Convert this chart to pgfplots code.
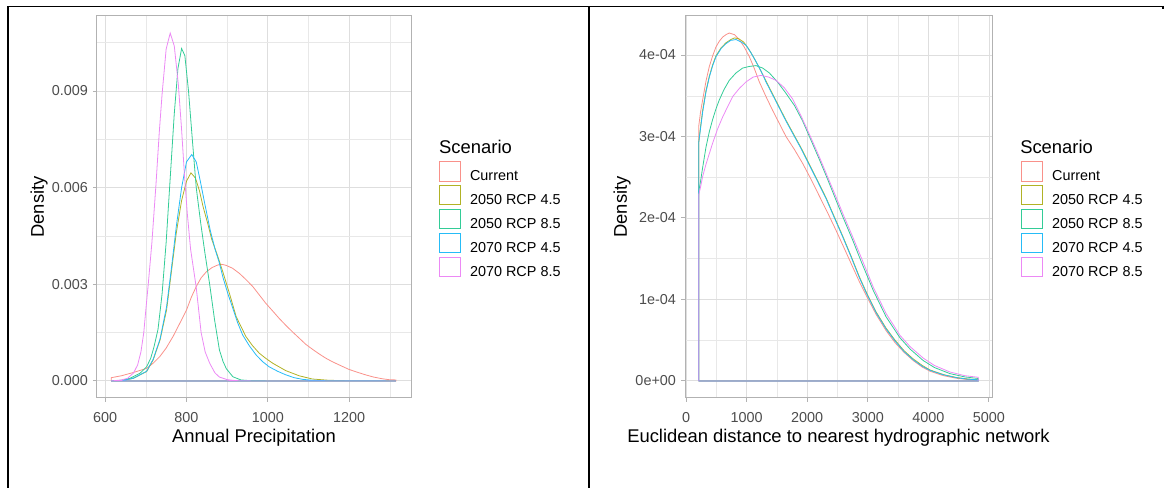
\documentclass[border=0pt]{standalone}
\usepackage{fontspec}
\setmainfont{Liberation Sans}
\usepackage{pgfplots}
\pgfplotsset{compat=1.18}
\definecolor{cA}{HTML}{F8766D}
\definecolor{cB}{HTML}{A3A500}
\definecolor{cC}{HTML}{00BF7D}
\definecolor{cD}{HTML}{00B0F6}
\definecolor{cE}{HTML}{E76BF3}
\pgfplotsset{
  ggstyle/.style={
    scale only axis,
    clip mode=individual,
    height=286.5pt,
    axis line style={black!30, line width=0.75pt},
    tick align=outside,
    tick pos=left,
    major tick length=3pt,
    minor tick length=0pt,
    tick style={black!30, line width=0.75pt},
    grid=both,
    major grid style={black!13, line width=0.7pt},
    minor grid style={black!9, line width=0.4pt},
    scaled x ticks=false, scaled y ticks=false,
    tick label style={font=\fontsize{10.8}{12}\selectfont, text=black!70},
    xticklabel style={anchor=north, inner sep=0pt, yshift=-8pt},
    yticklabel style={anchor=east, inner sep=0pt, xshift=-3.6pt},
    label style={font=\fontsize{13.8}{16}\selectfont, text=black},
    legend cell align=left,
    legend image code/.code={\fill[white] (0pt,-3.8pt) rectangle (16pt,11.3pt);
                             \draw[#1, fill=none, line width=0.7pt] (0.35pt,-3.45pt) rectangle (15.65pt,10.95pt);},
    legend style={draw=none, fill=none, inner sep=0pt, outer sep=0pt, anchor=north west,
      font=\fontsize{10.8}{13}\selectfont, row sep=1.8pt,
      nodes={inner xsep=6.75pt, inner ysep=0pt, text=black}},
    every axis plot/.append style={line width=0.6pt, no markers},
  }
}
\colorlet{kA}{cA!80!white}
\colorlet{kB}{cB!85!white}
\colorlet{kC}{cC!80!white}
\colorlet{kD}{cD!85!white}
\colorlet{kE}{cE!80!white}
\begin{document}
\begin{tikzpicture}
\begin{axis}[ggstyle,
  at={(72.75pt,67.5pt)}, anchor=south west, width=235.5pt,
  xmin=580, xmax=1352, ymin=-0.00053, ymax=0.01133,
  xtick={600,800,1000,1200}, xticklabels={600,800,1000,1200},
  minor xtick={700,900,1100,1300},
  ytick={0,0.003,0.006,0.009}, yticklabels={0.000,0.003,0.006,0.009},
  minor ytick={0.0015,0.0045,0.0075,0.0105},
  xlabel={Annual Precipitation}, ylabel={Density},
  xlabel style={at={(axis description cs:0.5,-0.1152)}, anchor=base},
  ylabel style={at={(axis description cs:-0.1688,0.5)}, anchor=base},
  legend style={at={(axis description cs:1.089,0.6205)}},
]
\addplot[kA] coordinates {(615,0) (615,0.00010) (640,0.00016) (669,0.00026) (702,0.00039) (718,0.00055) (734,0.00075) (750,0.00102) (767,0.00138) (784,0.0018) (800,0.0022) (812,0.0026) (824,0.00293) (836,0.0032) (849,0.00339) (863,0.00352) (877,0.0036) (887,0.00362) (897,0.00359) (913,0.0035) (930,0.00334) (946,0.00315) (963,0.00293) (979,0.00267) (995,0.00241) (1012,0.00217) (1028,0.00194) (1044,0.00173) (1060,0.00153) (1077,0.00133) (1093,0.00114) (1110,0.00098) (1126,0.00084) (1142,0.00071) (1158,0.0006) (1180,0.00047) (1199,0.00036) (1220,0.00027) (1240,0.00019) (1260,0.00012) (1280,0.00007) (1297,0.00004) (1315,0.00003) (1315,0) (615,0)};
\addlegendentry{Current}
\addplot[kB] coordinates {(615,0) (640,0.00001) (669,0.00008) (702,0.00029) (718,0.00065) (735,0.00127) (751,0.0022) (763,0.0034) (775,0.0046) (788,0.0056) (800,0.0062) (811,0.00646) (822,0.0063) (832,0.0059) (841,0.0054) (852,0.0049) (862,0.0044) (876,0.0039) (889,0.0034) (906,0.0027) (922,0.0020) (946,0.00138) (962,0.0011) (979,0.00086) (995,0.0007) (1012,0.00055) (1044,0.00032) (1077,0.00016) (1109,0.00006) (1150,0.00002) (1200,0.000005) (1315,0) (615,0)};
\addlegendentry{2050 RCP 4.5}
\addplot[kC] coordinates {(615,0) (640,0.00002) (661,0.00008) (686,0.00024) (702,0.00044) (712,0.0007) (720,0.00105) (730,0.0016) (740,0.0027) (750,0.0043) (760,0.0063) (770,0.0083) (779,0.0097) (788,0.01032) (796,0.0101) (805,0.0090) (815,0.0074) (824,0.0060) (835,0.0049) (845,0.0040) (857,0.0030) (869,0.0019) (881,0.00096) (890,0.0006) (898,0.00038) (914,0.00013) (934,0.00003) (960,0.000005) (1000,0) (1315,0) (615,0)};
\addlegendentry{2050 RCP 8.5}
\addplot[kD] coordinates {(615,0) (640,0.00001) (669,0.00008) (702,0.0003) (718,0.00067) (735,0.0013) (751,0.0023) (763,0.0035) (775,0.0048) (788,0.0060) (800,0.0068) (813,0.00703) (824,0.0068) (834,0.0062) (845,0.0055) (858,0.0047) (870,0.0041) (880,0.0037) (890,0.0032) (902,0.0027) (914,0.00225) (926,0.0018) (938,0.00143) (954,0.0011) (971,0.00081) (987,0.0006) (1003,0.00044) (1024,0.0003) (1044,0.00019) (1065,0.0001) (1085,0.00005) (1109,0.00002) (1150,0.000005) (1315,0) (615,0)};
\addlegendentry{2070 RCP 4.5}
\addplot[kE] coordinates {(615,0) (640,0.00003) (655,0.00008) (670,0.00025) (680,0.0005) (688,0.0009) (695,0.0015) (700,0.0022) (706,0.0030) (715,0.0043) (725,0.0061) (733,0.0077) (740,0.0089) (750,0.0103) (760,0.0108) (770,0.0104) (780,0.0092) (788,0.0078) (795,0.0064) (802,0.0052) (810,0.0041) (817,0.0035) (824,0.0029) (830,0.0022) (836,0.0015) (846,0.0009) (857,0.00055) (870,0.00025) (881,0.00012) (900,0.00004) (920,0.00001) (960,0) (1315,0) (615,0)};
\addlegendentry{2070 RCP 8.5}
\node[anchor=base west, font=\fontsize{13.8}{16}\selectfont, inner sep=0pt] at (axis description cs:1.089,0.6406) {Scenario};
\end{axis}

\begin{axis}[ggstyle,
  at={(513.75pt,67.5pt)}, anchor=south west, width=230.25pt,
  xmin=-16.5, xmax=5050, ymin=-2.09e-5, ymax=4.479e-4,
  xtick={0,1000,2000,3000,4000,5000}, xticklabels={0,1000,2000,3000,4000,5000},
  minor xtick={500,1500,2500,3500,4500},
  ytick={0,1e-4,2e-4,3e-4,4e-4}, yticklabels={0e+00,1e-04,2e-04,3e-04,4e-04},
  minor ytick={0.5e-4,1.5e-4,2.5e-4,3.5e-4},
  xlabel={Euclidean distance to nearest hydrographic network}, ylabel={Density},
  xlabel style={at={(axis description cs:0.5,-0.1152)}, anchor=base},
  ylabel style={at={(axis description cs:-0.189,0.5)}, anchor=base},
  legend style={at={(axis description cs:1.0945,0.6205)}},
]
\addplot[kA] coordinates {(209,0) (209,3.12e-4) (240,3.30e-4) (275,3.45e-4) (330,3.68e-4) (385,3.86e-4) (440,3.99e-4) (495,4.10e-4) (550,4.17e-4) (605,4.22e-4) (660,4.25e-4) (715,4.27e-4) (800,4.25e-4) (880,4.19e-4) (960,4.10e-4) (1045,3.98e-4) (1130,3.83e-4) (1210,3.67e-4) (1320,3.49e-4) (1430,3.32e-4) (1540,3.16e-4) (1650,3.00e-4) (1790,2.84e-4) (1925,2.67e-4) (2060,2.48e-4) (2200,2.27e-4) (2340,2.06e-4) (2475,1.85e-4) (2610,1.63e-4) (2750,1.40e-4) (2860,1.22e-4) (2981,1.04e-4) (3135,0.82e-4) (3300,0.62e-4) (3450,0.47e-4) (3600,0.35e-4) (3750,0.25e-4) (3900,0.17e-4) (4026,0.12e-4) (4250,0.065e-4) (4466,0.033e-4) (4650,0.017e-4) (4824,0.01e-4) (4824,0) (209,0)};
\addlegendentry{Current}
\addplot[kB] coordinates {(209,0) (209,2.92e-4) (240,3.12e-4) (275,3.32e-4) (330,3.56e-4) (385,3.74e-4) (440,3.88e-4) (495,3.99e-4) (580,4.09e-4) (660,4.15e-4) (740,4.19e-4) (800,4.21e-4) (870,4.20e-4) (950,4.16e-4) (1030,4.08e-4) (1110,3.98e-4) (1190,3.87e-4) (1280,3.74e-4) (1320,3.68e-4) (1430,3.52e-4) (1540,3.36e-4) (1650,3.20e-4) (1760,3.05e-4) (1900,2.86e-4) (2035,2.66e-4) (2170,2.46e-4) (2310,2.25e-4) (2450,2.01e-4) (2585,1.78e-4) (2720,1.54e-4) (2860,1.28e-4) (2981,1.08e-4) (3135,0.85e-4) (3300,0.65e-4) (3450,0.50e-4) (3600,0.37e-4) (3750,0.27e-4) (3900,0.19e-4) (4026,0.135e-4) (4250,0.078e-4) (4466,0.042e-4) (4650,0.024e-4) (4824,0.015e-4) (4824,0) (209,0)};
\addlegendentry{2050 RCP 4.5}
\addplot[kC] coordinates {(209,0) (209,2.32e-4) (240,2.45e-4) (275,2.62e-4) (330,2.87e-4) (385,3.06e-4) (440,3.21e-4) (495,3.34e-4) (550,3.45e-4) (630,3.58e-4) (715,3.69e-4) (825,3.78e-4) (935,3.84e-4) (1045,3.86e-4) (1155,3.87e-4) (1265,3.84e-4) (1375,3.78e-4) (1510,3.67e-4) (1650,3.53e-4) (1790,3.38e-4) (1925,3.19e-4) (2060,2.96e-4) (2200,2.72e-4) (2340,2.47e-4) (2475,2.22e-4) (2596,2.00e-4) (2750,1.73e-4) (2900,1.45e-4) (3091,1.11e-4) (3300,0.79e-4) (3531,0.53e-4) (3700,0.39e-4) (3916,0.25e-4) (4100,0.165e-4) (4356,0.09e-4) (4600,0.05e-4) (4824,0.03e-4) (4824,0) (209,0)};
\addlegendentry{2050 RCP 8.5}
\addplot[kD] coordinates {(209,0) (209,2.92e-4) (240,3.10e-4) (275,3.30e-4) (330,3.55e-4) (385,3.73e-4) (440,3.87e-4) (495,3.98e-4) (580,4.08e-4) (660,4.14e-4) (740,4.18e-4) (825,4.19e-4) (910,4.16e-4) (990,4.12e-4) (1070,4.03e-4) (1155,3.92e-4) (1240,3.80e-4) (1320,3.67e-4) (1430,3.51e-4) (1540,3.35e-4) (1650,3.19e-4) (1760,3.04e-4) (1900,2.85e-4) (2035,2.65e-4) (2170,2.45e-4) (2310,2.24e-4) (2450,2.00e-4) (2585,1.77e-4) (2720,1.53e-4) (2860,1.27e-4) (2981,1.07e-4) (3135,0.84e-4) (3300,0.64e-4) (3450,0.49e-4) (3600,0.36e-4) (3750,0.26e-4) (3900,0.18e-4) (4026,0.13e-4) (4250,0.075e-4) (4466,0.04e-4) (4650,0.022e-4) (4824,0.014e-4) (4824,0) (209,0)};
\addlegendentry{2070 RCP 4.5}
\addplot[kE] coordinates {(209,0) (209,2.28e-4) (240,2.38e-4) (275,2.51e-4) (330,2.66e-4) (385,2.79e-4) (440,2.92e-4) (520,3.09e-4) (605,3.24e-4) (690,3.37e-4) (770,3.49e-4) (880,3.59e-4) (990,3.67e-4) (1110,3.73e-4) (1237,3.75e-4) (1360,3.73e-4) (1485,3.69e-4) (1620,3.60e-4) (1760,3.46e-4) (1900,3.25e-4) (2035,3.03e-4) (2200,2.75e-4) (2340,2.50e-4) (2475,2.26e-4) (2596,2.04e-4) (2750,1.77e-4) (2900,1.50e-4) (3091,1.15e-4) (3300,0.83e-4) (3531,0.56e-4) (3700,0.42e-4) (3916,0.28e-4) (4100,0.19e-4) (4356,0.11e-4) (4600,0.065e-4) (4824,0.045e-4) (4824,0) (209,0)};
\addlegendentry{2070 RCP 8.5}
\node[anchor=base west, font=\fontsize{13.8}{16}\selectfont, inner sep=0pt] at (axis description cs:1.0912,0.6406) {Scenario};
\end{axis}

\draw[line width=0.9pt] (5.25pt,361.1pt) -- (872.6pt,361.1pt);
\draw[line width=1.5pt] (6pt,0pt) -- (6pt,361.5pt);
\draw[line width=1.5pt] (441.75pt,0pt) -- (441.75pt,361.5pt);
\draw[line width=1.5pt] (872.2pt,361.5pt) -- (872.2pt,359.5pt);
\pgfresetboundingbox
\path (0pt,0pt) rectangle (873pt,366pt);
\end{tikzpicture}
\end{document}
